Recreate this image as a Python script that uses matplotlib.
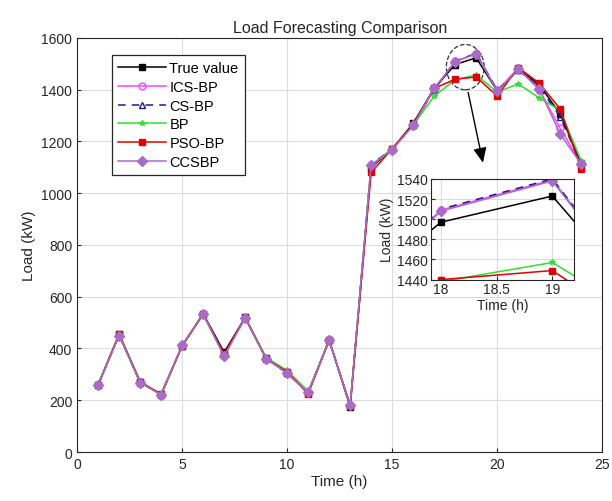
import matplotlib
matplotlib.use('Agg')
import matplotlib.pyplot as plt
import numpy as np
from matplotlib.patches import Ellipse

plt.rcParams['font.family'] = ['Liberation Sans', 'DejaVu Sans']

# 数据
hours = np.arange(1, 25)
true_value = [260, 455, 270, 222, 410, 535, 385, 520, 362, 305, 228, 432, 175,
              1100, 1170, 1270, 1405, 1497, 1523, 1395, 1478, 1420, 1305, 1115]
ics_bp = [258, 453, 272, 220, 412, 533, 372, 518, 360, 308, 232, 430, 182,
          1110, 1168, 1262, 1402, 1509, 1539, 1397, 1482, 1400, 1250, 1112]
cs_bp = [260, 452, 268, 224, 410, 532, 378, 520, 362, 305, 230, 432, 180,
         1112, 1170, 1265, 1400, 1510, 1540, 1398, 1475, 1410, 1295, 1110]
bp = [262, 455, 275, 218, 412, 535, 372, 522, 365, 315, 235, 430, 182,
      1105, 1172, 1262, 1375, 1438, 1457, 1390, 1422, 1368, 1320, 1125]
pso_bp = [258, 454, 270, 224, 410, 532, 378, 519, 360, 310, 225, 433, 178,
          1080, 1172, 1265, 1405, 1440, 1449, 1375, 1485, 1425, 1325, 1093]
ccsbp = [260, 450, 268, 222, 412, 532, 370, 518, 360, 305, 230, 432, 180,
         1108, 1168, 1262, 1405, 1508, 1538, 1395, 1478, 1403, 1228, 1112]

series = [
    ('True value', true_value, dict(color='k', marker='s', ms=4, mfc='k', ls='-')),
    ('ICS-BP', ics_bp, dict(color='#ff44ff', marker='o', ms=5, mfc='none', ls='-')),
    ('CS-BP', cs_bp, dict(color='#1a1a8c', marker='^', ms=5, mfc='none', ls='--', dashes=(5, 4))),
    ('BP', bp, dict(color='#33dd33', marker='*', ms=4, mfc='#33dd33', ls='-')),
    ('PSO-BP', pso_bp, dict(color='#e00000', marker='s', ms=4.5, mfc='#e00000', ls='-')),
    ('CCSBP', ccsbp, dict(color='#a86cc8', marker='D', ms=5, mfc='#a86cc8', ls='-')),
]

fig = plt.figure(figsize=(6.12, 5.02), dpi=100)
ax = fig.add_axes([0.126, 0.0976, 0.858, 0.825])

for name, vals, kw in series:
    ax.plot(hours, vals, label=name, lw=1.1, **kw)

ax.set_xlim(0, 25)
ax.set_ylim(0, 1600)
ax.set_xticks(np.arange(0, 26, 5))
ax.set_yticks(np.arange(0, 1601, 200))
ax.grid(True, color='#dcdcdc', lw=0.8)
ax.set_axisbelow(True)
ax.tick_params(direction='in', labelsize=10, colors='#262626', length=3)
for sp in ax.spines.values():
    sp.set_color('#262626')
    sp.set_linewidth(0.8)
ax.set_xlabel('Time (h)', fontsize=11, color='#262626', labelpad=2)
ax.set_ylabel('Load (kW)', fontsize=11, color='#262626')
ax.set_title('Load Forecasting Comparison', fontsize=11.5, color='#262626', pad=4)

leg = ax.legend(loc='upper left', bbox_to_anchor=(0.066, 0.959), borderaxespad=0,
                fontsize=10.5, handlelength=3.3, labelspacing=0.32, borderpad=0.45,
                fancybox=False, framealpha=1, edgecolor='#262626', handletextpad=0.2)
leg.get_frame().set_linewidth(0.9)

# 放大区域
ell = Ellipse((18.48, 1487), 1.8, 175, fill=False, ls='--', lw=0.9, color='#333333')
ax.add_patch(ell)
ax.annotate('', xy=(19.35, 1107), xytext=(18.59, 1400),
            arrowprops=dict(arrowstyle='-|>,head_length=0.9,head_width=0.4',
                            color='k', lw=1.0))

axins = fig.add_axes([0.704, 0.441, 0.234, 0.2006])
for name, vals, kw in series:
    axins.plot(hours, vals, lw=1.1, **kw)
axins.set_xlim(17.91, 19.195)
axins.set_ylim(1440, 1540)
axins.set_xticks([18, 18.5, 19])
axins.set_xticklabels(['18', '18.5', '19'])
axins.set_yticks(np.arange(1440, 1541, 20))
axins.grid(True, color='#dcdcdc', lw=0.8)
axins.set_axisbelow(True)
axins.tick_params(direction='in', labelsize=10, colors='#262626', length=3, pad=2)
for sp in axins.spines.values():
    sp.set_color('#262626')
    sp.set_linewidth(0.8)
axins.set_xlabel('Time (h)', fontsize=10, color='#262626', labelpad=1)
axins.set_ylabel('Load (kW)', fontsize=10, color='#262626', labelpad=2)

fig.savefig('out.png', dpi=100)
